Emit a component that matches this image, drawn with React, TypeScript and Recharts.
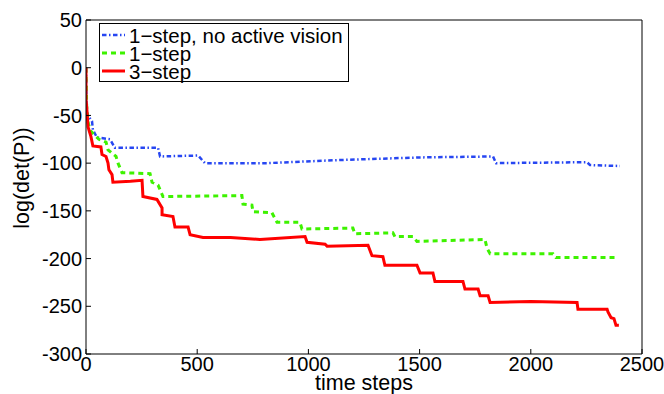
import React from 'react';
import { LineChart, Line, XAxis, YAxis, ReferenceLine, Legend, Label } from 'recharts';

// ---- data ----
const blueSteps = [0, 2, 5, 27, 31, 49, 108, 130, 324, 333, 504, 535, 814, 1111, 1502, 1830, 1844, 2253, 2266, 2401];
const blueValues = [0, -35, -49, -56, -65, -73, -75, -84, -84, -93, -92, -100, -100, -97, -94, -93, -100, -99, -102, -103];

const greenSteps = [0, 3, 10, 20, 36, 58, 90, 99, 135, 144, 162, 288, 297, 324, 346, 701, 706, 746, 751, 836, 859, 962, 971, 1200, 1209, 1380, 1389, 1470, 1488, 1794, 1803, 1817, 2100, 2113, 2388];
const greenValues = [0, -40, -58, -66, -70, -75, -78, -86, -93, -100, -110, -111, -120, -123, -135, -134, -143, -144, -151, -152, -162, -162, -169, -168, -174, -173, -177, -177, -182, -180, -189, -195, -195, -199, -199];

const redSteps = [0, 0, 4, 9, 13, 22, 31, 67, 72, 90, 99, 103, 117, 121, 200, 252, 256, 319, 342, 342, 391, 400, 459, 468, 526, 650, 782, 985, 994, 1075, 1084, 1268, 1286, 1335, 1344, 1488, 1502, 1560, 1569, 1695, 1704, 1763, 1772, 1808, 1817, 2000, 2208, 2212, 2343, 2347, 2361, 2374, 2383, 2396];
const redValues = [0, -33, -44, -62, -65, -72, -82, -83, -91, -93, -100, -107, -112, -120, -119, -118, -135, -138, -147, -154, -156, -167, -167, -175, -178, -178, -180, -177, -183, -185, -187, -186, -197, -198, -207, -207, -215, -215, -224, -224, -232, -232, -239, -239, -246, -245, -246, -253, -253, -256, -262, -263, -270, -270];

const seriesNames = ['1\u2212step, no active vision', '1\u2212step', '3\u2212step'];
const xTicks = [0, 500, 1000, 1500, 2000, 2500];
const yTicks = [-300, -250, -200, -150, -100, -50, 0, 50];

const toPoints = (xs: number[], ys: number[]) => xs.map((x, i) => ({ x, y: ys[i] }));
const blueData = toPoints(blueSteps, blueValues);
const greenData = toPoints(greenSteps, greenValues);
const redData = toPoints(redSteps, redValues);

const FONT = '"Liberation Sans", Arial, Helvetica, sans-serif';
const BLUE = '#2646f2';
const GREEN = '#3ef200';
const RED = '#ff0000';

const styles = [
  { color: BLUE, dash: '4.5 2.5 1.5 2.5', width: 2.5 },
  { color: GREEN, dash: '5 4', width: 3 },
  { color: RED, dash: undefined as string | undefined, width: 3 },
];

const LegendBox = () => (
  <div
    style={{
      width: 250,
      height: 59,
      boxSizing: 'border-box',
      border: '1.3px solid #000',
      background: '#fff',
    }}
  >
    <svg width={248} height={57} style={{ display: 'block', overflow: 'visible' }}>
      {seriesNames.map((name, i) => {
        const cy = 11 + i * 18;
        const s = styles[i];
        return (
          <g key={name}>
            <line x1={2} x2={25} y1={cy} y2={cy} stroke={s.color} strokeWidth={s.width} strokeDasharray={s.dash} />
            <text x={29} y={cy + 7.5} fontSize={20.5} fontFamily={FONT} fill="#000">
              {name}
            </text>
          </g>
        );
      })}
    </svg>
  </div>
);

export default function App() {
  return (
    <div style={{ position: 'absolute', left: 0, top: 0, width: 664, height: 394, background: '#fff' }}>
      <LineChart width={664} height={394} margin={{ top: 20, right: 22, bottom: 0, left: 0 }}>
        <XAxis
          dataKey="x"
          type="number"
          domain={[0, 2500]}
          ticks={xTicks}
          interval={0}
          allowDataOverflow
          height={40}
          tickSize={-5}
          tickMargin={8}
          axisLine={{ stroke: '#000', strokeWidth: 1 }}
          tickLine={{ stroke: '#000', strokeWidth: 1 }}
          tick={{ fill: '#000', fontSize: 20, fontFamily: FONT }}
        >
          <Label value="time steps" position="insideBottom" offset={4} style={{ fill: '#000', fontSize: 21.5, fontFamily: FONT }} />
        </XAxis>
        <YAxis
          type="number"
          domain={[-300, 50]}
          ticks={yTicks}
          interval={0}
          allowDataOverflow
          width={86}
          tickSize={-5}
          tickMargin={9}
          axisLine={{ stroke: '#000', strokeWidth: 1 }}
          tickLine={{ stroke: '#000', strokeWidth: 1 }}
          tick={{ fill: '#000', fontSize: 20, fontFamily: FONT }}
        >
          <Label
            content={() => (
              <text
                x={22}
                y={178}
                transform="rotate(-90 22 178)"
                textAnchor="middle"
                dominantBaseline="central"
                fontSize={21.5}
                fontFamily={FONT}
                fill="#000"
              >
                log(det(P))
              </text>
            )}
          />
        </YAxis>
        <ReferenceLine x={2500} stroke="#000" strokeWidth={1} />
        <ReferenceLine y={50} stroke="#000" strokeWidth={1} />
        <Line data={blueData} dataKey="y" name={seriesNames[0]} type="linear" stroke={BLUE} strokeWidth={styles[0].width} strokeDasharray={styles[0].dash} dot={false} isAnimationActive={false} />
        <Line data={greenData} dataKey="y" name={seriesNames[1]} type="linear" stroke={GREEN} strokeWidth={styles[1].width} strokeDasharray={styles[1].dash} dot={false} isAnimationActive={false} />
        <Line data={redData} dataKey="y" name={seriesNames[2]} type="linear" stroke={RED} strokeWidth={styles[2].width} dot={false} isAnimationActive={false} />
        <Legend
          layout="horizontal"
          verticalAlign="middle"
          align="center"
          content={() => <LegendBox />}
          wrapperStyle={{ left: 99, top: 23, width: 250, height: 59 }}
        />
      </LineChart>
    </div>
  );
}
